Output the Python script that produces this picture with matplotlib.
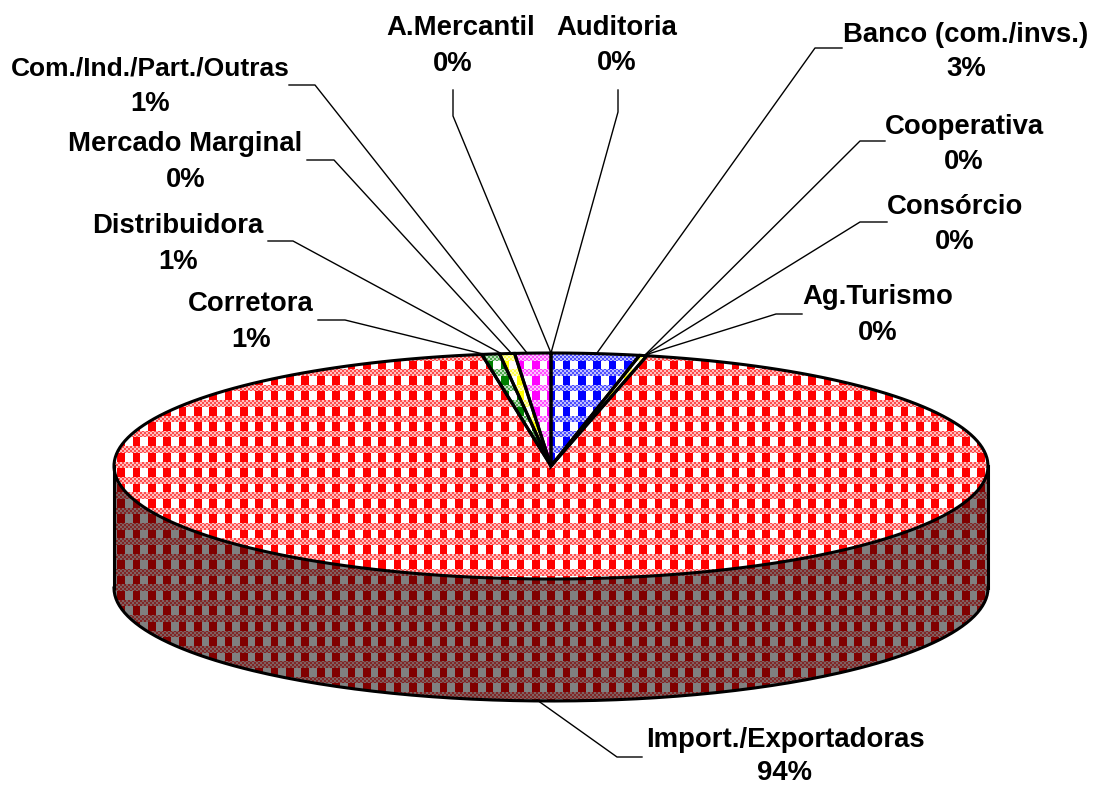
import numpy as np
import matplotlib
matplotlib.use('Agg')
import matplotlib.pyplot as plt
from matplotlib.colors import to_rgb
from matplotlib.patches import Polygon

plt.rcParams['font.family'] = ['Liberation Sans', 'DejaVu Sans']

# clockwise from 12 o'clock
categories = ['Auditoria', 'Banco (com./invs.)', 'Cooperativa', 'Consórcio', 'Ag.Turismo',
              'Import./Exportadoras', 'Corretora', 'Distribuidora', 'Mercado Marginal',
              'Com./Ind./Part./Outras', 'A.Mercantil']
values = [0.0, 3.25, 0.0, 0.0, 0.27, 93.95, 0.65, 0.55, 0.0, 1.33, 0.0]
pct_labels = ['0%', '3%', '0%', '0%', '0%', '94%', '1%', '1%', '0%', '1%', '0%']
colors = ['#0000ff', '#0000ff', '#00ffff', '#ffff00', '#ffff00',
          '#ff0000', '#008000', '#ffff00', '#00ff00', '#ff00ff', '#000000']

W, H = 1093, 785
cx, cy, a, b, depth = 551, 466, 437, 113, 122

# name xy, percent xy, leader points
layout = {
    'Auditoria': ((617, 28), (617, 63), [(618, 90), (618, 112), (551, 353)]),
    'Banco (com./invs.)': ((966, 35), (966, 69), [(842, 48), (815, 48), (597, 353)]),
    'Cooperativa': ((964, 127), (964, 162), [(885, 141), (860, 141), (645, 355)]),
    'Consórcio': ((955, 207), (955, 242), [(887, 222), (860, 222), (645, 355)]),
    'Ag.Turismo': ((878, 297), (878, 333), [(802, 314), (776, 314), (645, 355)]),
    'Import./Exportadoras': ((785, 740), (785, 773), [(642, 757), (617, 757), (537, 700)]),
    'Corretora': ((251, 304), (251, 340), [(318, 320), (345, 320), (483, 354)]),
    'Distribuidora': ((178, 226), (178, 262), [(268, 241), (293, 241), (502, 354)]),
    'Mercado Marginal': ((185, 144), (186, 180), [(307, 160), (334, 160), (512, 354)]),
    'Com./Ind./Part./Outras': ((150, 69), (150, 104), [(289, 85), (315, 85), (527, 353)]),
    'A.Mercantil': ((461, 28), (453, 64), [(453, 90), (453, 116), (551, 353)]),
}


# excel style plaid fill as a pixel image
def plaid(fg, bg):
    P = 15.36
    fg, bg = np.array(to_rgb(fg)), np.array(to_rgb(bg))
    xx, yy = np.meshgrid(np.arange(W), np.arange(H))
    col = ((xx - 301) % P) < P / 2
    row = ((yy - 437) % P) < P * 0.57
    check = ((xx // 2 + yy // 2) % 2) == 0
    img = np.zeros((H, W, 3))
    img[row & col] = fg
    img[row & ~col] = bg
    # the bands between the blocks are a soft dither
    img[~row & check] = 0.7 * fg + 0.3 * bg
    img[~row & ~check] = 0.25 * fg + 0.75 * bg
    return img


def rim(t1, t2, n=200):
    t = np.radians(np.linspace(t1, t2, n))
    return np.column_stack([cx + a * np.sin(t), cy - b * np.cos(t)])


fig = plt.figure(figsize=(W / 100, H / 100), dpi=100)
ax = fig.add_axes([0, 0, 1, 1])
ax.set_xlim(0, W)
ax.set_ylim(H, 0)
ax.axis('off')

# side of the cylinder
low = rim(90, 270)
side = np.vstack([low, (low + [0, depth])[::-1]])
patch = Polygon(side, closed=True, fc='none', ec='none')
ax.add_patch(patch)
im = ax.imshow(plaid('#800000', '#808080'), extent=(0, W, H, 0), interpolation='nearest',
               aspect='auto', zorder=1)
im.set_clip_path(patch)
ax.plot(*(low + [0, depth]).T, color='k', lw=2.2, zorder=3)
ax.plot([cx - a, cx - a], [cy, cy + depth], color='k', lw=2.2, zorder=3)
ax.plot([cx + a, cx + a], [cy, cy + depth], color='k', lw=2.2, zorder=3)

# top slices
start = 0
for val, c in zip(values, colors):
    if val == 0:
        continue
    end = start + val * 3.6
    pts = np.vstack([[cx, cy], rim(start, end)])
    patch = Polygon(pts, closed=True, fc='none', ec='none')
    ax.add_patch(patch)
    im = ax.imshow(plaid(c, '#ffffff'), extent=(0, W, H, 0), interpolation='nearest',
                   aspect='auto', zorder=2)
    im.set_clip_path(patch)
    ax.add_patch(Polygon(pts, closed=True, fc='none', ec='k', lw=2.2, joinstyle='miter', zorder=3))
    start = end

# leaders and labels
for name, pct in zip(categories, pct_labels):
    name_xy, pct_xy, leader = layout[name]
    ax.plot(*zip(*leader), color='k', lw=1.0, zorder=2.5)
    size = 19 if name.startswith('Com.') else 19.8
    ax.text(*name_xy, name, ha='center', va='center', fontsize=size, fontweight='bold')
    ax.text(*pct_xy, pct, ha='center', va='center', fontsize=19.8, fontweight='bold')

ax.set_xlim(0, W)
ax.set_ylim(H, 0)
fig.savefig('out.png', dpi=100)
